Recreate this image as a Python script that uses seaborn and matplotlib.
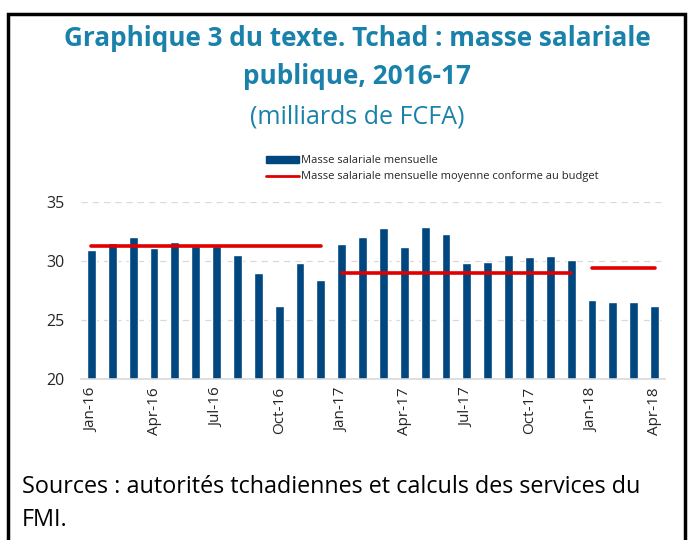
import matplotlib
matplotlib.use("Agg")
import matplotlib.pyplot as plt
from matplotlib.patches import Patch
from matplotlib.lines import Line2D
import numpy as np
import pandas as pd
import seaborn as sns

# data
months = ['Jan-16', 'Feb-16', 'Mar-16', 'Apr-16', 'May-16', 'Jun-16', 'Jul-16', 'Aug-16',
          'Sep-16', 'Oct-16', 'Nov-16', 'Dec-16',
          'Jan-17', 'Feb-17', 'Mar-17', 'Apr-17', 'May-17', 'Jun-17', 'Jul-17', 'Aug-17',
          'Sep-17', 'Oct-17', 'Nov-17', 'Dec-17',
          'Jan-18', 'Feb-18', 'Mar-18', 'Apr-18']
masse = [30.9, 31.5, 32.0, 31.1, 31.65, 31.3, 31.3, 30.5, 29.0, 26.15, 29.85, 28.35,
         31.45, 32.0, 32.8, 31.15, 32.85, 32.3, 29.85, 29.95, 30.5, 30.3, 30.4, 30.1,
         26.7, 26.5, 26.5, 26.2]
budget_years = ['16', '17', '18']
budget_avg = [31.3, 28.95, 29.4]

sns.set_style("white")
plt.rcParams['font.family'] = ['Open Sans', 'DejaVu Sans']

BLUE = '#00467f'
RED = '#e00000'
TEAL = '#1a82aa'

df = pd.DataFrame({'mois': months, 'masse': masse})

fig = plt.figure(figsize=(6.89, 5.40), dpi=100)
ax = fig.add_axes([81/689, 1 - 379/540, (665-81)/689, (379-202)/540])

sns.barplot(data=df, x='mois', y='masse', color=BLUE, width=0.43, ax=ax, saturation=1)

# budget average lines per year
for yr, val in zip(budget_years, budget_avg):
    idx = [i for i, m in enumerate(months) if m.endswith(yr)]
    sns.lineplot(x=[idx[0], idx[-1]], y=[val, val], color=RED, linewidth=2.6, ax=ax)

ax.set_ylim(20, 35)
ax.set_xlim(-0.5, len(months) - 0.5)
ax.set_yticks([20, 25, 30, 35])
ax.yaxis.grid(True, linestyle=(0, (5, 4)), color='#d9d9d9', linewidth=0.9)
ax.set_axisbelow(True)
ax.set_xticks(range(0, len(months), 3))
ax.set_xticklabels(months[::3], rotation=90, fontsize=11)
ax.tick_params(axis='y', labelsize=11.5, length=0, pad=12)
ax.tick_params(axis='x', length=0, pad=6)
ax.set_xlabel('')
ax.set_ylabel('')
for s in ['top', 'right', 'left']:
    ax.spines[s].set_visible(False)
ax.spines['bottom'].set_color('#d9d9d9')
ax.spines['bottom'].set_linewidth(1.2)

handles = [Patch(color=BLUE, label='Masse salariale mensuelle'),
           Line2D([0], [0], color=RED, linewidth=2, label='Masse salariale mensuelle moyenne conforme au budget')]
fig.legend(handles=handles, loc='center', bbox_to_anchor=(432/689, 1 - 169/540), frameon=False,
           fontsize=8, handlelength=3.0, handleheight=0.6, labelspacing=0.45, handletextpad=0.15)

# titles
fig.text(357/689, 1 - 39/540, 'Graphique 3 du texte. Tchad : masse salariale', ha='center', va='center',
         fontsize=18.8, fontweight='bold', color=TEAL)
fig.text(357/689, 1 - 77/540, 'publique, 2016-17', ha='center', va='center',
         fontsize=18.8, fontweight='bold', color=TEAL)
fig.text(357/689, 1 - 117/540, '(milliards de FCFA)', ha='center', va='center',
         fontsize=18, color=TEAL)

fig.text(22/689, 1 - 487/540, 'Sources : autorités tchadiennes et calculs des services du', ha='left', va='center',
         fontsize=16.8, color='black')
fig.text(22/689, 1 - 520/540, 'FMI.', ha='left', va='center', fontsize=16.8, color='black')

# frame
fig.add_artist(plt.Rectangle((8/689, -0.05), (685-8)/689, 1.05 - 14/540, transform=fig.transFigure,
                             fill=False, edgecolor='black', linewidth=2.5))

fig.savefig('out.png', dpi=100)
